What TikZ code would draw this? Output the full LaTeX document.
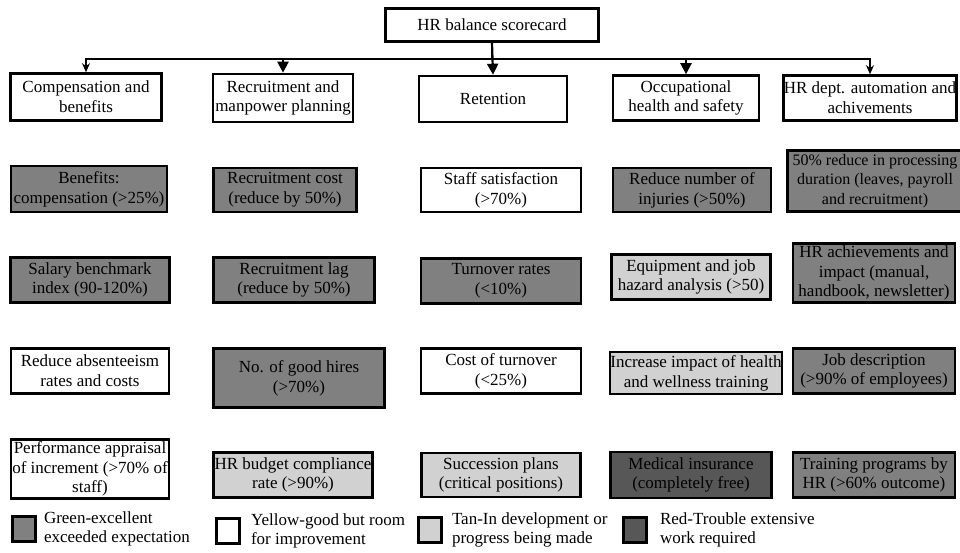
\documentclass[tikz,border=0pt]{standalone}
\usepackage{fontspec}
\setmainfont{Liberation Serif}
\usepackage{tikz}
\usetikzlibrary{arrows.meta, positioning}
\definecolor{excellentgray}{gray}{0.5}
\definecolor{goodgray}{gray}{1}
\definecolor{progressgray}{gray}{0.82}
\definecolor{troublegray}{gray}{0.34}
\tikzstyle{card} = [rectangle, draw=black, line width=2.6pt, align=center, inner sep=0pt, font=\fontsize{17}{19.8}\selectfont]
\tikzstyle{head} = [card, fill=white]
\tikzstyle{excellent} = [card, fill=excellentgray]
\tikzstyle{good} = [card, fill=goodgray]
\tikzstyle{progress} = [card, fill=progressgray]
\tikzstyle{trouble} = [card, fill=troublegray]
\tikzstyle{key} = [rectangle, draw=black, line width=2.6pt, minimum width=23pt, minimum height=25pt, inner sep=0pt]
\tikzstyle{keytext} = [align=left, inner sep=0pt, font=\fontsize{17}{19.8}\selectfont]
\tikzstyle{arrow} = [line width=2.2pt, -{Triangle[length=11pt, width=11pt]}]
\tikzstyle{smallarrow} = [line width=2.2pt, -{Stealth[length=9pt, width=8pt]}]

\begin{document}
\begin{tikzpicture}[x=1pt, y=-1pt]
    \useasboundingbox (0,0) rectangle (960,553);

    % top of the scorecard
    \node[head, minimum width=213pt, minimum height=33pt] (score) at (492,25) {HR balance scorecard};

    % perspectives
    \node[head, minimum width=151pt, minimum height=47pt] (comp) at (86,97) {Compensation and\\benefits};
    \node[head, minimum width=140pt, minimum height=48pt] (recr) at (283,98) {Recruitment and\\manpower planning};
    \node[head, minimum width=148pt, minimum height=46pt] (ret) at (493,99) {Retention};
    \node[head, minimum width=146pt, minimum height=45pt] (ohs) at (686,98) {Occupational\\health and safety};
    \node[head, minimum width=173pt, minimum height=45pt] (auto) at (870,98) {HR dept. automation and\\achivements};

    \draw[smallarrow] (score.south) -- ++(0,16) -| (comp.north);
    \draw[arrow] (score.south) -- ++(0,16) -| (recr.north);
    \draw[arrow] (score.south) -- (ret.north);
    \draw[arrow] (score.south) -- ++(0,16) -| (ohs.north);
    \draw[smallarrow] (score.south) -- ++(0,16) -| (auto.north);

    % compensation and benefits
    \node[excellent, minimum width=156pt, minimum height=46pt] (benefits) at (89,189) {Benefits:\\compensation (>25\%)};
    \node[excellent, minimum width=159pt, minimum height=45pt] (salary) at (90,280) {Salary benchmark\\index (90-120\%)};
    \node[good, minimum width=158pt, minimum height=45pt] (absent) at (90,371) {Reduce absenteeism\\rates and costs};
    \node[good, minimum width=158pt, minimum height=59pt] (appraisal) at (90,469) {Performance appraisal\\of increment (>70\% of\\staff)};

    % recruitment and manpower planning
    \node[excellent, minimum width=143pt, minimum height=44pt] (rcost) at (285,190) {Recruitment cost\\(reduce by 50\%)};
    \node[excellent, minimum width=161pt, minimum height=45pt] (rlag) at (294,280) {Recruitment lag\\(reduce by 50\%)};
    \node[excellent, minimum width=171pt, minimum height=59pt] (hires) at (299,378) {No. of good hires\\(>70\%)};
    \node[progress, minimum width=159pt, minimum height=45pt] (budget) at (293,475) {HR budget compliance\\rate (>90\%)};

    % retention
    \node[good, minimum width=160pt, minimum height=44pt] (staff) at (501,190) {Staff satisfaction\\(>70\%)};
    \node[excellent, minimum width=160pt, minimum height=45pt] (turnover) at (501,281) {Turnover rates\\(<10\%)};
    \node[good, minimum width=160pt, minimum height=45pt] (tcost) at (501,371) {Cost of turnover\\(<25\%)};
    \node[progress, minimum width=159pt, minimum height=44pt] (succession) at (501,475) {Succession plans\\(critical positions)};

    % occupational health and safety
    \node[excellent, minimum width=158pt, minimum height=44pt] (injuries) at (692,190) {Reduce number of\\injuries (>50\%)};
    \node[progress, minimum width=159pt, minimum height=45pt] (hazard) at (691,277) {Equipment and job\\hazard analysis (>50)};
    \node[progress, minimum width=172pt, minimum height=42pt] (wellness) at (696,373) {Increase impact of health\\and wellness training};
    \node[trouble, minimum width=161pt, minimum height=46pt] (medical) at (691,475) {Medical insurance\\(completely free)};

    % HR dept. automation and achivements
    \node[excellent, minimum width=175pt, minimum height=61pt, font=\fontsize{16}{19.8}\selectfont] (processing) at (875,181) {50\% reduce in processing\\duration (leaves, payroll\\and recruitment)};
    \node[excellent, minimum width=162pt, minimum height=59pt] (achieve) at (874,273) {HR achievements and\\impact (manual,\\handbook, newsletter)};
    \node[excellent, minimum width=162pt, minimum height=45pt] (jobdesc) at (874,371) {Job description\\(>90\% of employees)};
    \node[excellent, minimum width=162pt, minimum height=45pt] (training) at (874,475) {Training programs by\\HR (>60\% outcome)};

    % legend
    \node[key, fill=excellentgray] (key1) at (24,529) {};
    \node[keytext, right=7pt of key1] (text1) {Green-excellent\\exceeded expectation};
    \node[key, fill=goodgray] (key2) at (228,531) {};
    \node[keytext, right=10pt of key2] (text2) {Yellow-good but room\\for improvement};
    \node[key, fill=progressgray] (key3) at (430,530) {};
    \node[keytext, right=9pt of key3] (text3) {Tan-In development or\\progress being made};
    \node[key, fill=troublegray] (key4) at (635,530) {};
    \node[keytext, right=12pt of key4] (text4) {Red-Trouble extensive\\work required};
\end{tikzpicture}
\end{document}
